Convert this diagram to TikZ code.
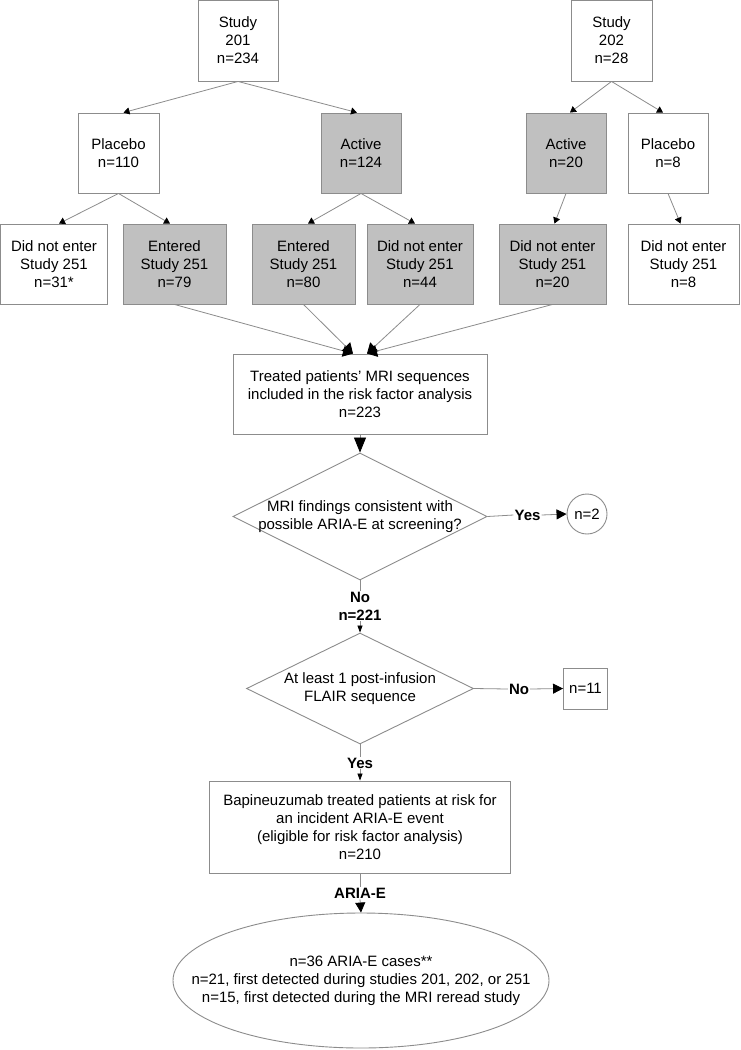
\documentclass[tikz,border=0pt]{standalone}
\usepackage{fontspec}
\setmainfont{Liberation Sans}
\usetikzlibrary{arrows.meta,shapes.geometric,calc}
\definecolor{edgegray}{RGB}{140,140,140}
\definecolor{boxgray}{RGB}{192,192,192}
\begin{document}
\begin{tikzpicture}[x=1pt,y=-1pt,
  every node/.style={font=\fontsize{15pt}{18pt}\selectfont, text=black},
  box/.style={draw=edgegray, line width=0.9pt, align=center, inner sep=0pt},
  shaded/.style={box, fill=boxgray},
  lbl/.style={font=\fontsize{15pt}{18pt}\selectfont\bfseries, inner sep=1pt, align=center},
  conn/.style={draw=edgegray, line width=0.8pt},
  tipS/.style={conn, -{Triangle[length=6pt,width=7pt,color=black]}},
  tipM/.style={conn, -{Triangle[length=10pt,width=10pt,color=black]}},
  tipL/.style={conn, -{Triangle[length=10pt,width=12pt,color=black]}},
  tipXL/.style={conn, -{Triangle[length=15pt,width=12pt,color=black]}},
  tipT/.style={conn, -{Triangle[length=7pt,width=5pt,color=black]}}
]
\useasboundingbox (0,0) rectangle (740,1050);
\fill[white] (0,0) rectangle (740,1050);

% row 1
\node[box, minimum width=80pt, minimum height=81pt] (s201) at (238,40.5) {Study\\201\\n=234};
\node[box, minimum width=81pt, minimum height=81pt] (s202) at (611.5,40.5) {Study\\202\\n=28};
% row 2
\node[box, minimum width=81pt, minimum height=80pt] (pl110) at (118.5,153) {Placebo\\n=110};
\node[shaded, minimum width=80pt, minimum height=80pt] (ac124) at (361,153) {Active\\n=124};
\node[shaded, minimum width=80pt, minimum height=80pt] (ac20) at (566,153) {Active\\n=20};
\node[box, minimum width=80pt, minimum height=80pt] (pl8) at (668,153) {Placebo\\n=8};
% row 3
\node[box, minimum width=107pt, minimum height=80pt] (dne31) at (54,264) {Did not enter\\Study 251\\n=31*};
\node[shaded, minimum width=103pt, minimum height=80pt] (en79) at (174.5,264) {Entered\\Study 251\\n=79};
\node[shaded, minimum width=103pt, minimum height=80pt] (en80) at (303.5,264) {Entered\\Study 251\\n=80};
\node[shaded, minimum width=106pt, minimum height=80pt] (dne44) at (420,264) {Did not enter\\Study 251\\n=44};
\node[shaded, minimum width=107pt, minimum height=80pt] (dne20) at (552.5,264) {Did not enter\\Study 251\\n=20};
\node[box, minimum width=111pt, minimum height=80pt] (dne8) at (683.5,264) {Did not enter\\Study 251\\n=8};

% treated
\node[box, minimum width=254pt, minimum height=80pt] (treated) at (360,394) {Treated patients’ MRI sequences\\included in the risk factor analysis\\n=223};

% diamond 1
\node[draw=edgegray, line width=0.9pt, diamond, inner sep=0pt, minimum width=254pt, minimum height=127pt] (d1) at (360,516.5) {};
\node[align=center, inner sep=0pt] (d1t) at (360,516.5) {MRI findings consistent with\\possible ARIA-E at screening?};
\node[lbl] (yes1) at (527.5,515) {Yes};
\node[draw=edgegray, line width=0.9pt, circle, inner sep=0pt, minimum size=40pt] (c2) at (587,514) {n=2};

% no / n=221
\node[lbl] (no1) at (360,606) {No\\n=221};

% diamond 2
\node[draw=edgegray, line width=0.9pt, diamond, inner sep=0pt, minimum width=227pt, minimum height=111pt] (d2) at (360,688.5) {};
\node[align=center, inner sep=0pt] (d2t) at (360,688.5) {At least 1 post-infusion\\FLAIR sequence};
\node[lbl] (no2) at (519,689) {No};
\node[box, minimum width=44pt, minimum height=41pt] (b11) at (585.5,688.5) {n=11};

% yes 2
\node[lbl] (yes2) at (360,763) {Yes};

% bapineuzumab
\node[box, minimum width=301pt, minimum height=92pt] (bapi) at (360,827) {Bapineuzumab treated patients at risk for\\an incident ARIA-E event\\(eligible for risk factor analysis)\\n=210};

\node[lbl] (aria) at (360,893) {ARIA-E};

% ellipse
\node[draw=edgegray, line width=0.9pt, ellipse, inner sep=0pt, minimum width=376pt, minimum height=135pt] (ell) at (361,980.5) {};
\node[align=center, inner sep=0pt] (ellt) at (361,981) {n=36 ARIA-E cases**\\n=21, first detected during studies 201, 202, or 251\\n=15, first detected during the MRI reread study};

% connectors row1 -> row2
\draw[tipS] (s201.south) -- ($(pl110.north)+(5,0)$);
\draw[tipS] (s201.south) -- ($(ac124.north)+(-4,0)$);
\draw[tipS] (s202.south) -- ($(ac20.north)+(4,0)$);
\draw[tipS] (s202.south) -- ($(pl8.north)+(-5,0)$);
% row2 -> row3
\draw[tipS] (pl110.south) -- ($(dne31.north)+(5,0)$);
\draw[tipS] (pl110.south) -- ($(en79.north)+(-4.5,0)$);
\draw[tipS] (ac124.south) -- ($(en80.north)+(4.5,0)$);
\draw[tipS] (ac124.south) -- ($(dne44.north)+(-5,0)$);
\draw[tipS] (ac20.south) -- ($(dne20.north)+(2,0)$);
\draw[tipS] (pl8.south) -- ($(dne8.north)+(-3,0)$);
% row3 -> treated
\coordinate (tL) at ($(treated.north)+(-7,0)$);
\coordinate (tR) at ($(treated.north)+(7,0)$);
\draw[tipL] (en79.south) -- (tL);
\draw[tipL] (en80.south) -- (tL);
\draw[tipL] (dne44.south) -- (tR);
\draw[tipL] (dne20.south) -- (tR);
% treated -> d1
\draw[tipXL] (treated.south) -- (d1.north);
% d1 -> n=2
\draw[conn] (d1.east) -- (yes1.west);
\draw[tipM] (yes1.east) -- (c2.west);
% d1 -> d2
\draw[conn] (d1.south) -- (no1.north);
\draw[tipT] (no1.south) -- (d2.north);
% d2 -> n=11
\draw[conn] (d2.east) -- (no2.west);
\draw[tipM] (no2.east) -- (b11.west);
% d2 -> bapi
\draw[conn] (d2.south) -- (yes2.north);
\draw[tipT] (yes2.south) -- (bapi.north);
% bapi -> ellipse
\draw[conn] (bapi.south) -- (aria.north);
\draw[tipM] (aria.south) -- (ell.north);
\end{tikzpicture}
\end{document}
